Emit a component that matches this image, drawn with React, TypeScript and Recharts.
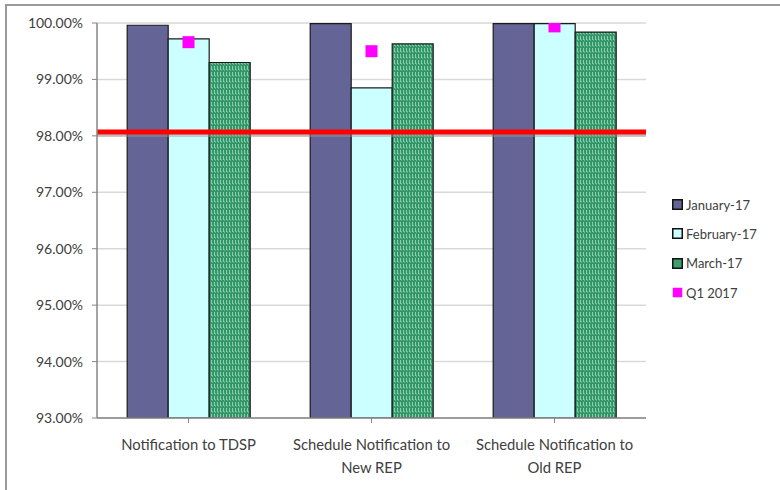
import React from 'react';
import {
  ComposedChart,
  Bar,
  Scatter,
  XAxis,
  YAxis,
  CartesianGrid,
  ReferenceLine,
} from 'recharts';

const categories = [
  'Notification to TDSP',
  'Schedule Notification to New REP',
  'Schedule Notification to Old REP',
];
const january = [0.9996, 0.9999, 0.9999];
const february = [0.9972, 0.9885, 0.9999];
const march = [0.993, 0.9963, 0.9984];
const q1 = [0.9966, 0.995, 0.9994];
const yTicks = [0.93, 0.94, 0.95, 0.96, 0.97, 0.98, 0.99, 1.0];
const targetLine = 0.9807;

const seriesNames = ['January-17', 'February-17', 'March-17', 'Q1 2017'];

const data = categories.map((c, i) => ({
  name: c,
  jan: january[i],
  feb: february[i],
  mar: march[i],
  q1: q1[i],
}));

const FONT = 'Lato, "Open Sans", sans-serif';

const XTick = (props: any) => {
  const { x, y, payload } = props;
  const text: string = payload.value;
  let lines: string[] = [text];
  const idx = text.indexOf(' to ');
  if (text.startsWith('Schedule')) {
    lines = [text.slice(0, idx + 3), text.slice(idx + 4)];
  }
  return (
    <g transform={`translate(${x},${y})`}>
      <text textAnchor="middle" fill="#404040" fontSize={14.8} fontFamily={FONT}>
        {lines.map((l, i) => (
          <tspan key={i} x={0} dy={i === 0 ? 25 : 23}>
            {l}
          </tspan>
        ))}
      </text>
    </g>
  );
};

const legendFills = ['#646496', '#CCFFFF', '#3f9f70', '#FF00FF'];
const legendStrokes = ['#111', '#111', '#111', 'none'];

const LegendBox = () => (
  <div
    style={{
      position: 'absolute',
      left: 672,
      top: 190,
      fontFamily: FONT,
      fontSize: 13,
      color: '#404040',
    }}
  >
    {seriesNames.map((n, i) => (
      <div key={n} style={{ display: 'flex', alignItems: 'center', height: 29.3 }}>
        <svg width={11} height={11} style={{ marginRight: 3 }}>
          <rect
            x={0.75}
            y={0.75}
            width={9.5}
            height={9.5}
            fill={legendFills[i]}
            stroke={legendStrokes[i]}
            strokeWidth={1.5}
          />
        </svg>
        <span>{n}</span>
      </div>
    ))}
  </div>
);

const SquareMarker = (props: any) => {
  const { cx, cy } = props;
  return <rect x={cx - 6} y={cy - 6} width={12} height={12} fill="#FF00FF" />;
};

export default function App() {
  return (
    <div style={{ position: 'relative', width: 780, height: 490, background: '#fff', overflow: 'hidden' }}>
      <style>{`body{margin:0;}`}</style>
      <div
        style={{
          position: 'absolute',
          left: 5,
          top: 4,
          width: 780,
          height: 490,
          borderLeft: '2px solid #9a9a9a',
          borderTop: '2px solid #9a9a9a',
          boxSizing: 'border-box',
        }}
      />
      <div style={{ position: 'absolute', left: 0, top: 0 }}>
        <ComposedChart
          width={780}
          height={490}
          data={data}
          margin={{ top: 23, right: 134, bottom: 0, left: 0 }}
          barCategoryGap="16.5%"
          barGap={0}
        >
          <defs>
            <pattern id="marchPattern" width="3" height="6" patternUnits="userSpaceOnUse">
              <rect width="3" height="6" fill="#33956a" />
              <rect x="1" y="0" width="1" height="4" fill="#8ccfac" />
              <rect x="2" y="3" width="1" height="2" fill="#5fb488" />
            </pattern>
          </defs>
          <CartesianGrid vertical={false} stroke="#d9d9d9" strokeWidth={1.5} />
          <XAxis
            dataKey="name"
            height={72}
            tick={<XTick />}
            tickLine={{ stroke: '#868686' }}
            axisLine={{ stroke: '#868686', strokeWidth: 1.5 }}
            tickSize={5}
            interval={0}
          />
          <YAxis
            type="number"
            domain={[0.93, 1]}
            ticks={yTicks}
            width={97}
            tickFormatter={(v: number) => (v * 100).toFixed(2) + '%'}
            tick={{ fill: '#404040', fontSize: 14, fontFamily: FONT }}
            tickLine={{ stroke: '#868686' }}
            axisLine={{ stroke: '#868686', strokeWidth: 1.5 }}
            tickSize={5}
            tickMargin={9}
            allowDataOverflow
          />
          <Bar dataKey="jan" name={seriesNames[0]} fill="#646496" stroke="#1a1a1a" strokeWidth={1.2} isAnimationActive={false} />
          <Bar dataKey="feb" name={seriesNames[1]} fill="#CCFFFF" stroke="#1a1a1a" strokeWidth={1.2} isAnimationActive={false} />
          <Bar dataKey="mar" name={seriesNames[2]} fill="url(#marchPattern)" stroke="#1a1a1a" strokeWidth={1.2} isAnimationActive={false} />
          <ReferenceLine y={targetLine} stroke="#9a9a9a" strokeOpacity={0.45} strokeWidth={4} transform="translate(0,3)" />
          <ReferenceLine y={targetLine} stroke="#FF0000" strokeWidth={5} />
          <Scatter dataKey="q1" name={seriesNames[3]} fill="#FF00FF" shape={<SquareMarker />} isAnimationActive={false} />
        </ComposedChart>
      </div>
      <LegendBox />
    </div>
  );
}
